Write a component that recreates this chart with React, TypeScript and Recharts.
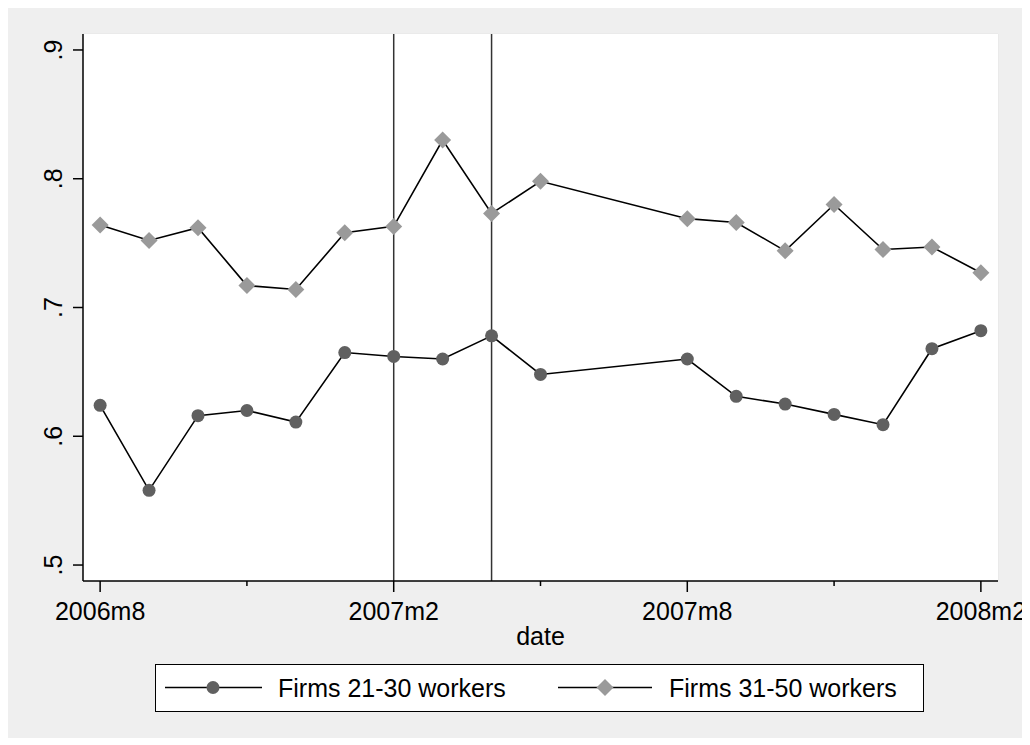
import React from 'react';
import {
  LineChart,
  Line,
  XAxis,
  YAxis,
  CartesianGrid,
  ReferenceLine,
  Legend,
} from 'recharts';

// months counted from 2006m8 (2007m6 and 2007m7 have no observations)
const monthIndex = [0, 1, 2, 3, 4, 5, 6, 7, 8, 9, 12, 13, 14, 15, 16, 17, 18];

const firms21to30 = [
  0.624, 0.558, 0.616, 0.62, 0.611, 0.665, 0.662, 0.66, 0.678, 0.648,
  0.66, 0.631, 0.625, 0.617, 0.609, 0.668, 0.682,
];

const firms31to50 = [
  0.764, 0.752, 0.762, 0.717, 0.714, 0.758, 0.763, 0.83, 0.773, 0.798,
  0.769, 0.766, 0.744, 0.78, 0.745, 0.747, 0.727,
];

const xTicks = [0, 3, 6, 9, 12, 15, 18];
const xTickLabels = ['2006m8', '', '2007m2', '', '2007m8', '', '2008m2'];
const yTicks = [0.5, 0.6, 0.7, 0.8, 0.9];
const yTickLabels = ['.5', '.6', '.7', '.8', '.9'];
const markerLines = [6, 8]; // 2007m2, 2007m4

const seriesNames = ['Firms 21-30 workers', 'Firms 31-50 workers'];

const data = monthIndex.map((t, i) => ({
  t,
  a: firms21to30[i],
  b: firms31to50[i],
}));

const FONT = '"Liberation Sans", Arial, Helvetica, sans-serif';
const CIRCLE_FILL = '#606060';
const DIAMOND_FILL = '#9a9a9a';

const circleDot = (props: any) => {
  const { cx, cy, index } = props;
  return <circle key={`c${index}`} cx={cx} cy={cy} r={6.5} fill={CIRCLE_FILL} />;
};

const diamondDot = (props: any) => {
  const { cx, cy, index } = props;
  const s = 8.5;
  return (
    <polygon
      key={`d${index}`}
      points={`${cx},${cy - s} ${cx + s},${cy} ${cx},${cy + s} ${cx - s},${cy}`}
      fill={DIAMOND_FILL}
    />
  );
};

const XTick = (props: any) => {
  const { x, y, payload } = props;
  const label = xTickLabels[xTicks.indexOf(payload.value)];
  return (
    <g>
      <line x1={x} x2={x} y1={y} y2={y + (label ? 11 : 5)} stroke="#000" strokeWidth={1.5} />
      {label ? (
        <text x={x} y={y + 39} textAnchor="middle" fontSize={25} fill="#000" fontFamily={FONT}>
          {label}
        </text>
      ) : null}
    </g>
  );
};

const YTick = (props: any) => {
  const { x, y, payload } = props;
  const label = yTickLabels[yTicks.indexOf(payload.value)];
  const tx = x - 21;
  return (
    <g>
      <line x1={x - 10} x2={x} y1={y} y2={y} stroke="#000" strokeWidth={1.5} />
      <text
        x={tx}
        y={y}
        transform={`rotate(-90 ${tx} ${y})`}
        textAnchor="middle"
        fontSize={25}
        fill="#000"
        fontFamily={FONT}
      >
        {label}
      </text>
    </g>
  );
};

const DateLabel = (props: any) => {
  const { viewBox } = props;
  return (
    <text
      x={viewBox.x + viewBox.width / 2}
      y={viewBox.y + 64}
      textAnchor="middle"
      fontSize={25}
      fill="#000"
      fontFamily={FONT}
    >
      date
    </text>
  );
};

const LegendBox = () => (
  <div
    style={{
      width: 769,
      height: 48,
      boxSizing: 'border-box',
      border: '1.5px solid #000',
      background: '#fff',
    }}
  >
    <svg width={766} height={45} style={{ display: 'block' }}>
      <line x1={9} x2={106} y1={22.5} y2={22.5} stroke="#000" strokeWidth={1.5} />
      <circle cx={57} cy={22.5} r={6.5} fill={CIRCLE_FILL} />
      <text x={122} y={31.5} fontSize={25} fontFamily={FONT} fill="#000">
        {seriesNames[0]}
      </text>
      <line x1={402} x2={496} y1={22.5} y2={22.5} stroke="#000" strokeWidth={1.5} />
      <polygon points="449,14 457.5,22.5 449,31 440.5,22.5" fill={DIAMOND_FILL} />
      <text x={513} y={31.5} fontSize={25} fontFamily={FONT} fill="#000">
        {seriesNames[1]}
      </text>
    </svg>
  </div>
);

export default function App() {
  return (
    <div style={{ width: 1016, height: 730, background: '#efefef', position: 'relative' }}>
      <LineChart
        width={1022}
        height={730}
        data={data}
        margin={{ top: 26, right: 32, left: 0, bottom: 26 }}
        style={{ fontFamily: FONT }}
      >
        <rect x={75} y={26} width={915} height={547} fill="#fff" />
        <CartesianGrid stroke="#e8e8e8" strokeWidth={1.5} fill="#fff" />
        <XAxis
          dataKey="t"
          type="number"
          domain={[-0.35, 18.35]}
          ticks={xTicks}
          allowDataOverflow
          height={83}
          tickSize={0}
          tickMargin={0}
          tickLine={false}
          axisLine={{ stroke: '#000', strokeWidth: 1.5 }}
          tick={<XTick />}
          interval={0}
          label={{ value: 'date', content: <DateLabel /> }}
        />
        <YAxis
          type="number"
          domain={[0.4876, 0.9124]}
          ticks={yTicks}
          allowDataOverflow
          width={75}
          tickSize={0}
          tickMargin={0}
          tickLine={false}
          axisLine={{ stroke: '#000', strokeWidth: 1.5 }}
          tick={<YTick />}
          interval={0}
        />
        {markerLines.map((m) => (
          <ReferenceLine key={m} x={m} stroke="#333" strokeWidth={1.5} />
        ))}
        <Line
          dataKey="a"
          name={seriesNames[0]}
          stroke="#000"
          strokeWidth={1.6}
          dot={circleDot}
          activeDot={false}
          isAnimationActive={false}
        />
        <Line
          dataKey="b"
          name={seriesNames[1]}
          stroke="#000"
          strokeWidth={1.6}
          dot={diamondDot}
          activeDot={false}
          isAnimationActive={false}
        />
        <Legend
          verticalAlign="bottom"
          content={<LegendBox />}
          wrapperStyle={{ left: 147, bottom: 26, width: 769, height: 48 }}
        />
      </LineChart>
    </div>
  );
}
